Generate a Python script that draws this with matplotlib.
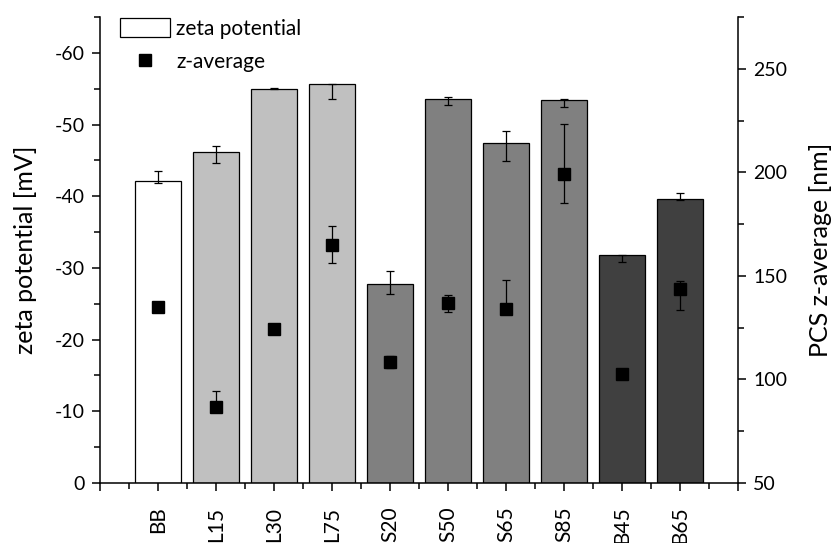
import numpy as np
import matplotlib
matplotlib.use("Agg")
import matplotlib.pyplot as plt
from matplotlib.lines import Line2D
from matplotlib.ticker import MultipleLocator, FixedLocator

plt.rcParams['font.family'] = ['Lato', 'DejaVu Sans']
plt.rcParams['axes.unicode_minus'] = False

# samples
labels = ["BB", "L15", "L30", "L75", "S20", "S50", "S65", "S85", "B45", "B65"]
bar_colors = ["#ffffff", "#c0c0c0", "#c0c0c0", "#c0c0c0",
              "#808080", "#808080", "#808080", "#808080",
              "#404040", "#404040"]

# zeta potential [mV]
zeta = [-42.1, -46.2, -55.0, -55.7, -27.8, -53.6, -47.4, -53.4, -31.8, -39.6]
zeta_err_neg = [1.4, 0.8, 0.1, 0.0, 1.8, 0.3, 1.7, 0.2, 0.0, 0.8]   # towards more negative
zeta_err_pos = [0.2, 1.6, 0.1, 2.2, 1.4, 0.9, 2.5, 1.0, 1.0, 0.1]   # towards zero

# PCS z-average [nm]
zavg = [135.2, 86.6, 124.5, 165.0, 108.3, 136.8, 133.9, 199.3, 102.5, 143.7]
zavg_err_low = [0.0, 2.0, 0.0, 9.0, 3.0, 4.0, 2.4, 14.0, 0.5, 10.0]
zavg_err_high = [0.0, 8.0, 0.0, 9.0, 3.0, 4.0, 14.0, 24.0, 0.5, 4.0]

x = np.arange(1, len(labels) + 1)

fig = plt.figure(figsize=(8.38, 5.43), dpi=100)
ax = fig.add_axes([0.1193, 0.1105, 0.7614, 0.8582])

bars = ax.bar(x, zeta, width=0.8, color=bar_colors, edgecolor="black",
              linewidth=0.9, label="zeta potential", zorder=2)
ax.errorbar(x, zeta, yerr=[zeta_err_neg, zeta_err_pos], fmt="none",
            ecolor="black", elinewidth=0.9, capsize=3, capthick=0.9, zorder=3)

ax.set_xlim(0, 11)
ax.set_ylim(0, -65)
ax.yaxis.set_major_locator(FixedLocator([0, -10, -20, -30, -40, -50, -60]))
ax.yaxis.set_minor_locator(MultipleLocator(5))
ax.set_xticks(np.arange(0, 12))
ax.set_xticklabels([""] + labels + [""], rotation=90)
ax.xaxis.set_minor_locator(FixedLocator(np.arange(0.5, 11, 1)))
ax.set_ylabel("zeta potential [mV]", fontsize=18)
ax.yaxis.set_label_coords(-0.098, 0.5)

ax2 = ax.twinx()
ax2.errorbar(x, zavg, yerr=[zavg_err_low, zavg_err_high], fmt="s",
             color="black", markersize=8, ecolor="black", elinewidth=0.9,
             capsize=3, capthick=0.9, zorder=4)
ax2.set_ylim(50, 275)
ax2.yaxis.set_major_locator(FixedLocator([50, 100, 150, 200, 250]))
ax2.yaxis.set_minor_locator(MultipleLocator(25))
ax2.set_ylabel("PCS z-average [nm]", fontsize=18)
ax2.yaxis.set_label_coords(1.112, 0.5)

for a in (ax, ax2):
    a.spines["top"].set_visible(False)
    for s in a.spines.values():
        s.set_linewidth(1.1)
    a.tick_params(which="major", length=6, width=1.1, labelsize=14, pad=5)
    a.tick_params(which="minor", length=4, width=1.1)
ax.tick_params(axis="x", which="major", labelsize=15, pad=11)
ax.spines["right"].set_visible(False)
ax2.spines["left"].set_visible(False)
ax2.spines["bottom"].set_visible(False)

zeta_handle = bars.patches[0]
zavg_handle = Line2D([], [], linestyle="none", marker="s", markersize=8,
                     color="black")
ax2.legend([zeta_handle, zavg_handle], ["zeta potential", "z-average"],
           loc="upper left", bbox_to_anchor=(0.143, 0.966),
           bbox_transform=fig.transFigure, frameon=False, fontsize=15,
           handlelength=2.4, handleheight=1.0, handletextpad=0.3,
           labelspacing=0.6, borderaxespad=0, borderpad=0)

fig.savefig("out.png", dpi=100)
